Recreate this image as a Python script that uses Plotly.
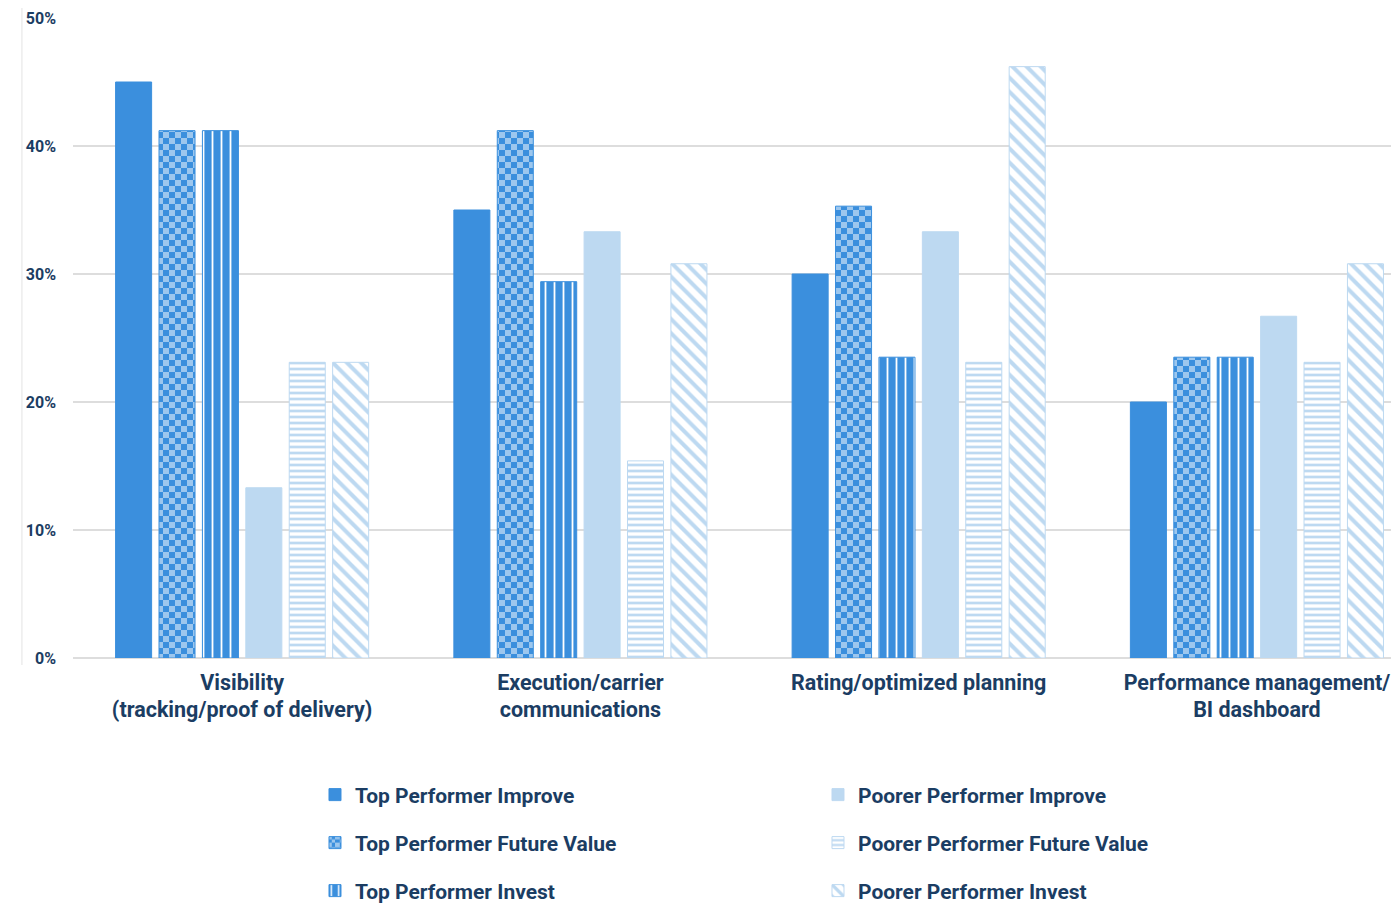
import plotly.graph_objects as go

categories = ["Visibility<br>(tracking/proof of delivery)",
              "Execution/carrier<br>communications",
              "Rating/optimized planning",
              "Performance management/<br>BI dashboard"]

series_names = ["Top Performer Improve", "Top Performer Future Value", "Top Performer Invest",
                "Poorer Performer Improve", "Poorer Performer Future Value", "Poorer Performer Invest"]

top_improve = [45.0, 35.0, 30.0, 20.0]
top_future = [41.2, 41.2, 35.3, 23.5]
top_invest = [41.2, 29.4, 23.5, 23.5]
poor_improve = [13.3, 33.3, 33.3, 26.7]
poor_future = [23.1, 15.4, 23.1, 23.1]
poor_invest = [23.1, 30.8, 46.2, 30.8]

y_ticks = [0, 10, 20, 30, 40, 50]
y_tick_labels = ["0%", "10%", "20%", "30%", "40%", "50%"]

DARK = "#3b8fdd"
LIGHT = "#bdd9f1"
NAVY = "#1b3d63"
FONT = "Roboto"

def checker():
    try:
        return go.bar.marker.Pattern(path="M0,0H6V6H0Z M6,6H12V12H6Z", size=12,
                                     bgcolor=DARK, fgcolor="white", fillmode="overlay")
    except Exception:
        return dict(shape="+", size=10, solidity=0.45, bgcolor="white", fgcolor=DARK, fillmode="replace")

styles = [
    dict(color=DARK, pattern=None),
    dict(color=DARK, pattern=checker()),
    dict(color=DARK, pattern=dict(shape="|", size=9, solidity=0.2, bgcolor=DARK, fgcolor="white", fillmode="replace")),
    dict(color=LIGHT, pattern=None),
    dict(color=LIGHT, pattern=dict(shape="-", size=6, solidity=0.45, bgcolor="white", fgcolor=LIGHT, fillmode="replace")),
    dict(color=LIGHT, pattern=dict(shape="\\", size=10, solidity=0.4, bgcolor="white", fgcolor=LIGHT, fillmode="replace")),
]
values = [top_improve, top_future, top_invest, poor_improve, poor_future, poor_invest]
legend_rows = ["legend", "legend2", "legend3", "legend", "legend2", "legend3"]
ranks = [1, 1, 1, 2, 2, 2]

fig = go.Figure()
for name, vals, st, lg, rk in zip(series_names, values, styles, legend_rows, ranks):
    marker = dict(color=st["color"], line=dict(color=st["color"], width=1))
    if st["pattern"] is not None:
        marker["pattern"] = st["pattern"]
    fig.add_trace(go.Bar(x=categories, y=vals, name=name, marker=marker, legend=lg, legendrank=rk))

def legend_row(yc):
    return dict(orientation="h", x=0.1825, y=yc, xanchor="left", yanchor="middle",
                entrywidth=458, entrywidthmode="pixels", traceorder="normal",
                font=dict(size=21, color=NAVY, family=FONT, weight="bold"),
                bgcolor="rgba(0,0,0,0)")

fig.update_layout(
    width=1391, height=906,
    margin=dict(l=65, r=0, t=10, b=256),
    paper_bgcolor="white", plot_bgcolor="white",
    barmode="group", bargap=0.23, bargroupgap=0.17,
    font=dict(family=FONT, color=NAVY),
    xaxis=dict(range=[-0.5, 3.42], tickfont=dict(size=21.5, color=NAVY, family=FONT, weight="bold"),
               showline=False, showgrid=False, ticks="", ticklabelstandoff=9),
    yaxis=dict(range=[0, 50], tickvals=y_ticks, ticktext=y_tick_labels,
               tickfont=dict(size=16, color=NAVY, family=FONT, weight="bold"),
               showgrid=True, gridcolor="#dddddd", gridwidth=1.5, zeroline=True,
               zerolinecolor="#dddddd", zerolinewidth=1.5, ticks="", ticklabelstandoff=16),
    legend=legend_row(-0.214),
    legend2=legend_row(-0.289),
    legend3=legend_row(-0.364),
    showlegend=True,
    shapes=[
        dict(type="line", xref="paper", yref="paper", x0=-0.0385, x1=-0.0385, y0=-0.011, y1=1.02,
             line=dict(color="#e3e3e3", width=1)),
    ],
)

fig.write_html("out.html")
